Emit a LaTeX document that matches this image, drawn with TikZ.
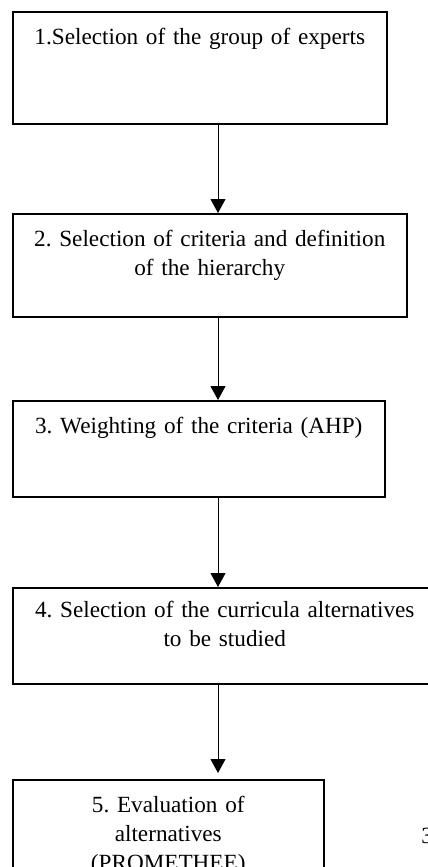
\documentclass[tikz,border=0pt]{standalone}
\usepackage{fontspec}
\setmainfont{Liberation Serif}
\usetikzlibrary{arrows.meta}
\frenchspacing
\newcommand{\boxline}{0.75pt}
\newcommand{\arrowline}{0.5pt}
\newcommand{\textdrop}{16.5pt}
\tikzset{
  stepbox/.style={draw, line width=\boxline, anchor=north west, inner sep=0pt},
  steptext/.style={anchor=base, align=center, inner sep=0pt, font=\fontsize{11.6}{14.5}\selectfont},
  steparrow/.style={line width=\arrowline, -{Triangle[width=7.5pt,length=7pt]}}
}

\begin{document}
\begin{tikzpicture}[x=0.5pt,y=-0.5pt]
\useasboundingbox (0,0) rectangle (428,867);
\clip (0,0) rectangle (428,867);
\coordinate (ax) at (218,0);
%boxes
\node[stepbox, minimum width=187pt, minimum height=56pt] (1) at (12,11) {};
\node[stepbox, minimum width=197pt, minimum height=51.5pt] (2) at (12,213) {};
\node[stepbox, minimum width=186pt, minimum height=48pt] (3) at (12,400) {};
\node[stepbox, minimum width=212pt, minimum height=48pt] (4) at (12,587) {};
\node[stepbox, minimum width=155.5pt, minimum height=56pt] (5) at (12,779) {};
%texts
\node[steptext, text width=187pt] (t1) at ([yshift=-\textdrop]1.north) {1.Selection of the group of experts};
\node[steptext, text width=197pt] (t2) at ([yshift=-\textdrop]2.north) {2. Selection of criteria and definition\\of the hierarchy};
\node[steptext, text width=186pt] (t3) at ([yshift=-\textdrop]3.north) {3. Weighting of the criteria (AHP)};
\node[steptext, text width=212pt] (t4) at ([yshift=-15pt]4.north) {4. Selection of the curricula alternatives\\to be studied};
\node[steptext, text width=155.5pt] (t5) at ([yshift=-\textdrop]5.north) {5. Evaluation of\\alternatives\\(PROMETHEE)};
\node[steptext, anchor=base west] (p) at (421,843) {3};
%arrows
\draw[steparrow] (1.south -| ax) -- (2.north -| ax);
\draw[steparrow] (2.south -| ax) -- (3.north -| ax);
\draw[steparrow] (3.south -| ax) -- (4.north -| ax);
\draw[steparrow, shorten >=3pt] (4.south -| ax) -- (5.north -| ax);
\end{tikzpicture}
\end{document}
